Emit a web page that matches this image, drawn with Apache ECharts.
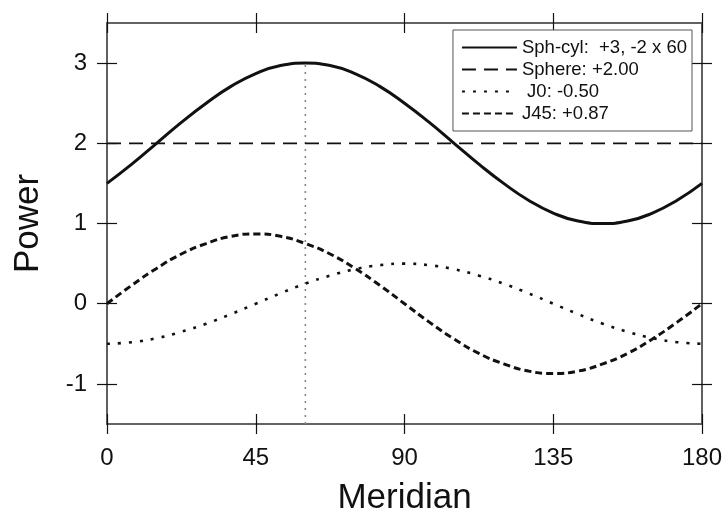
<!DOCTYPE html>
<html>
<head>
<meta charset="utf-8">
<script src="https://cdn.jsdelivr.net/npm/echarts@6/dist/echarts.min.js"></script>
<style>
  html, body { margin: 0; padding: 0; background: #fff; }
  #chart { width: 728px; height: 513px; }
</style>
</head>
<body>
<div id="chart"></div>
<script>
// Meridian (degrees) at which each curve is sampled
const meridians = [0, 7.5, 15, 22.5, 30, 37.5, 45, 52.5, 60, 67.5, 75, 82.5, 90, 97.5, 105, 112.5, 120, 127.5, 135, 142.5, 150, 157.5, 165, 172.5, 180];
// Power of the sphero-cylinder +3, -2 x 60 in each meridian
const sphCyl = [1.50, 1.74, 2.00, 2.26, 2.50, 2.71, 2.87, 2.97, 3.00, 2.97, 2.87, 2.71, 2.50, 2.26, 2.00, 1.74, 1.50, 1.29, 1.13, 1.03, 1.00, 1.03, 1.13, 1.29, 1.50];
// Spherical equivalent
const sphere = [2.00, 2.00, 2.00, 2.00, 2.00, 2.00, 2.00, 2.00, 2.00, 2.00, 2.00, 2.00, 2.00, 2.00, 2.00, 2.00, 2.00, 2.00, 2.00, 2.00, 2.00, 2.00, 2.00, 2.00, 2.00];
// J0 and J45 cross-cylinder components
const j0 = [-0.50, -0.48, -0.43, -0.35, -0.25, -0.13, 0.00, 0.13, 0.25, 0.35, 0.43, 0.48, 0.50, 0.48, 0.43, 0.35, 0.25, 0.13, 0.00, -0.13, -0.25, -0.35, -0.43, -0.48, -0.50];
const j45 = [0.00, 0.23, 0.44, 0.62, 0.75, 0.84, 0.87, 0.84, 0.75, 0.62, 0.44, 0.23, 0.00, -0.23, -0.44, -0.62, -0.75, -0.84, -0.87, -0.84, -0.75, -0.62, -0.44, -0.23, 0.00];
// Cylinder axis marker: meridian of maximum power, drawn from the floor up to that power
const axisMeridian = 60;
const axisMarker = [-1.5, 3.0];

const seriesNames = ['Sph-cyl:  +3, -2 x 60', 'Sphere: +2.00', 'J0: -0.50', 'J45: +0.87'];
const yTicks = [-1, 0, 1, 2, 3];

const FONT = '"Liberation Sans", Arial, Helvetica, sans-serif';
const FRAME = '#5a5a5a';
const INK = '#111';

const pairs = ys => meridians.map((m, i) => [m, ys[i]]);

function xAxisDef(position, inside, withLabels) {
  return {
    type: 'value', position: position, min: 0, max: 180, interval: 45,
    axisLine: { show: true, onZero: false, lineStyle: { color: FRAME, width: 1.6 } },
    axisTick: { show: true, inside: inside, length: 10, lineStyle: { color: INK, width: 1.2 } },
    axisLabel: { show: withLabels, fontFamily: FONT, fontSize: 24, color: INK, margin: 22 },
    splitLine: { show: false },
    name: withLabels ? 'Meridian' : '',
    nameLocation: 'middle', nameGap: 57,
    nameTextStyle: { fontFamily: FONT, fontSize: 35, color: INK }
  };
}
function yAxisDef(position, inside, withLabels) {
  return {
    type: 'value', position: position, min: -1.5, max: 3.5,
    axisLine: { show: true, onZero: false, lineStyle: { color: FRAME, width: 1.6 } },
    axisTick: { show: true, inside: inside, length: 10, customValues: yTicks, lineStyle: { color: INK, width: 1.2 } },
    axisLabel: { show: withLabels, customValues: yTicks, fontFamily: FONT, fontSize: 24, color: INK, margin: 20 },
    splitLine: { show: false },
    name: withLabels ? 'Power' : '',
    nameLocation: 'middle', nameGap: 61, nameRotate: 90,
    nameTextStyle: { fontFamily: FONT, fontSize: 35, color: INK }
  };
}

const chart = echarts.init(document.getElementById('chart'), null, { renderer: 'canvas' });
chart.setOption({
  animation: false,
  backgroundColor: '#fff',
  grid: { left: 107, right: 26, top: 23, bottom: 89, containLabel: false, outerBoundsMode: 'none' },
  xAxis: [
    xAxisDef('bottom', true, true),
    xAxisDef('bottom', false, false),
    xAxisDef('top', true, false),
    xAxisDef('top', false, false)
  ],
  yAxis: [
    yAxisDef('left', true, true),
    yAxisDef('left', false, false),
    yAxisDef('right', true, false),
    yAxisDef('right', false, false)
  ],
  legend: {
    data: seriesNames,
    orient: 'vertical',
    right: 36, top: 30,
    padding: [8, 5, 8, 8],
    itemWidth: 55, itemHeight: 10, itemGap: 3,
    backgroundColor: '#fff',
    borderColor: '#555', borderWidth: 1, borderRadius: 0,
    itemStyle: { opacity: 0 },
    formatter: name => (name === seriesNames[2] ? ' ' + name : name),
    textStyle: { fontFamily: FONT, fontSize: 18.5, color: INK, lineHeight: 19 }
  },
  series: [
    {
      name: 'axis', type: 'line', silent: true, symbol: 'none', z: 1,
      data: axisMarker.map(v => [axisMeridian, v]),
      lineStyle: { color: '#8a8a8a', width: 1.6, type: [2, 5] }
    },
    {
      name: seriesNames[0], type: 'line', symbol: 'none', smooth: 0.5,
      data: pairs(sphCyl),
      lineStyle: { color: INK, width: 3, type: 'solid' },
      itemStyle: { color: INK }
    },
    {
      name: seriesNames[1], type: 'line', symbol: 'none',
      data: pairs(sphere),
      lineStyle: { color: INK, width: 1.8, type: [14, 8] },
      itemStyle: { color: INK }
    },
    {
      name: seriesNames[2], type: 'line', symbol: 'none', smooth: 0.5,
      data: pairs(j0),
      lineStyle: { color: INK, width: 2.6, type: [3, 8] },
      itemStyle: { color: INK }
    },
    {
      name: seriesNames[3], type: 'line', symbol: 'none', smooth: 0.5,
      data: pairs(j45),
      lineStyle: { color: INK, width: 3, type: [7, 4] },
      itemStyle: { color: INK }
    }
  ]
});
</script>
</body>
</html>
